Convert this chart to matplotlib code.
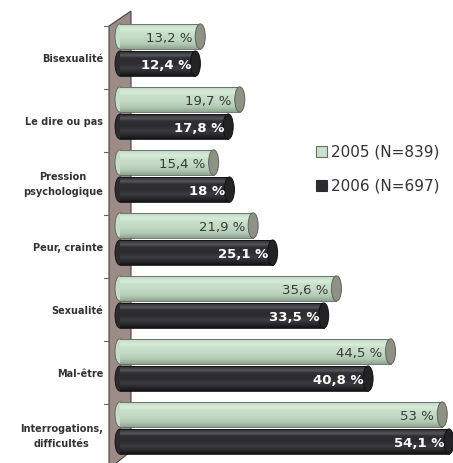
import numpy as np
import matplotlib
matplotlib.use("Agg")
import matplotlib.pyplot as plt
from matplotlib.patches import Polygon, Ellipse, Rectangle
from matplotlib.colors import LinearSegmentedColormap

categories = ["Bisexualité", "Le dire ou pas", "Pression\npsychologique",
              "Peur, crainte", "Sexualité", "Mal-être", "Interrogations,\ndifficultés"]
values_2005 = [13.2, 19.7, 15.4, 21.9, 35.6, 44.5, 53.0]
values_2006 = [12.4, 17.8, 18.0, 25.1, 33.5, 40.8, 54.1]
labels_2005 = ["13,2 %", "19,7 %", "15,4 %", "21,9 %", "35,6 %", "44,5 %", "53 %"]
labels_2006 = ["12,4 %", "17,8 %", "18 %", "25,1 %", "33,5 %", "40,8 %", "54,1 %"]
series_names = ["2005 (N=839)", "2006 (N=697)"]

W, H = 453, 464
fig = plt.figure(figsize=(W / 100, H / 100), dpi=100)
ax = fig.add_axes([0, 0, 1, 1])
px = 6.08  # pixels per percent
x0 = 120
ax.set_xlim(-x0 / px, (W - x0) / px)
yc0, dy = 51, 63
ax.set_ylim((H - yc0) / dy, -yc0 / dy)
ax.axis("off")

def P(xp, yp):
    return ((xp - x0) / px, (yp - yc0) / dy)

# wall
wall = Polygon([P(109, 27), P(131, 12), P(131, 452), P(109, 470)], closed=True,
               facecolor="#9c8b86", edgecolor="#4a4240", lw=0.8, zorder=1)
ax.add_patch(wall)

# ticks
for i in range(len(categories)):
    ty = i + (27 - yc0) / dy
    ax.plot([(104 - x0) / px, (109 - x0) / px], [ty, ty], color="#666666", lw=0.8, zorder=1)

green_cmap = LinearSegmentedColormap.from_list("g", [
    (0.0, "#9fb5a0"), (0.08, "#c6dcc8"), (0.25, "#d9ecda"), (0.35, "#c9e1cb"),
    (0.55, "#c3dcc6"), (0.8, "#b4ccb6"), (1.0, "#8ea590")])
dark_cmap = LinearSegmentedColormap.from_list("d", [
    (0.0, "#202024"), (0.1, "#3a3a3f"), (0.2, "#56565c"), (0.3, "#303034"),
    (0.5, "#2c2c30"), (0.7, "#3c3c40"), (0.85, "#2a2a2e"), (1.0, "#141416")])

bh = 0.40
off = 0.215
cap_w = 10 / px
grad = np.linspace(0, 1, 64).reshape(-1, 1)

def draw_bar(yc, v, cmap, cap_face, edge, z):
    ytop, ybot = yc - bh / 2, yc + bh / 2
    # left cap
    ax.add_patch(Ellipse((0, yc), cap_w, bh, facecolor=cmap(0.5), edgecolor=edge, lw=0.6, zorder=z))
    bars = ax.barh([yc], [v], height=bh, left=0, color=cmap(0.5), edgecolor="none", zorder=z + 0.1)
    r = bars[0]
    im = ax.imshow(grad, cmap=cmap, aspect="auto", extent=(0, v, ybot, ytop),
                   interpolation="bilinear", zorder=z + 0.2)
    im.set_clip_path(r)
    ax.plot([0, v], [ytop, ytop], color=edge, lw=0.6, zorder=z + 0.3)
    ax.plot([0, v], [ybot, ybot], color=edge, lw=0.6, zorder=z + 0.3)
    ax.add_patch(Ellipse((v, yc), cap_w, bh, facecolor=cap_face, edgecolor=edge, lw=0.7, zorder=z + 0.4))

for i in range(len(categories)):
    y5 = i - off
    y6 = i + off
    draw_bar(y5, values_2005[i], green_cmap, "#8d9282", "#5c645c", 3)
    draw_bar(y6, values_2006[i], dark_cmap, "#232326", "#111111", 5)
    ax.text(values_2005[i] - 1.3, y5 + 0.01, labels_2005[i], ha="right", va="center",
            fontsize=9.5, color="#3a3a3a", zorder=10)
    ax.text(values_2006[i] - 0.7, y6 + 0.01, labels_2006[i], ha="right", va="center",
            fontsize=9.5, color="white", fontweight="bold", zorder=10)
    ax.text((103 - x0) / px, i + 0.12, categories[i], ha="right", va="center",
            multialignment="center", fontsize=7, fontweight="bold", color="#333333",
            linespacing=1.55, zorder=10)

# legend
leg_cols = ["#c8e0cc", "#2c2c30"]
leg_edges = ["#6a6a6a", "#2c2c30"]
for k, (name, c, e) in enumerate(zip(series_names, leg_cols, leg_edges)):
    yy = 152 + k * 34
    sx0, sy0 = P(316, yy - 5.5)
    sx1, sy1 = P(327, yy + 5.5)
    ax.add_patch(Rectangle((sx0, sy0), sx1 - sx0, sy1 - sy0, facecolor=c, edgecolor=e, lw=0.8, zorder=10))
    tx, ty = P(331, yy)
    ax.text(tx, ty, name, ha="left", va="center", fontsize=11, color="#333333", zorder=10)

fig.savefig("out.png", dpi=100)
